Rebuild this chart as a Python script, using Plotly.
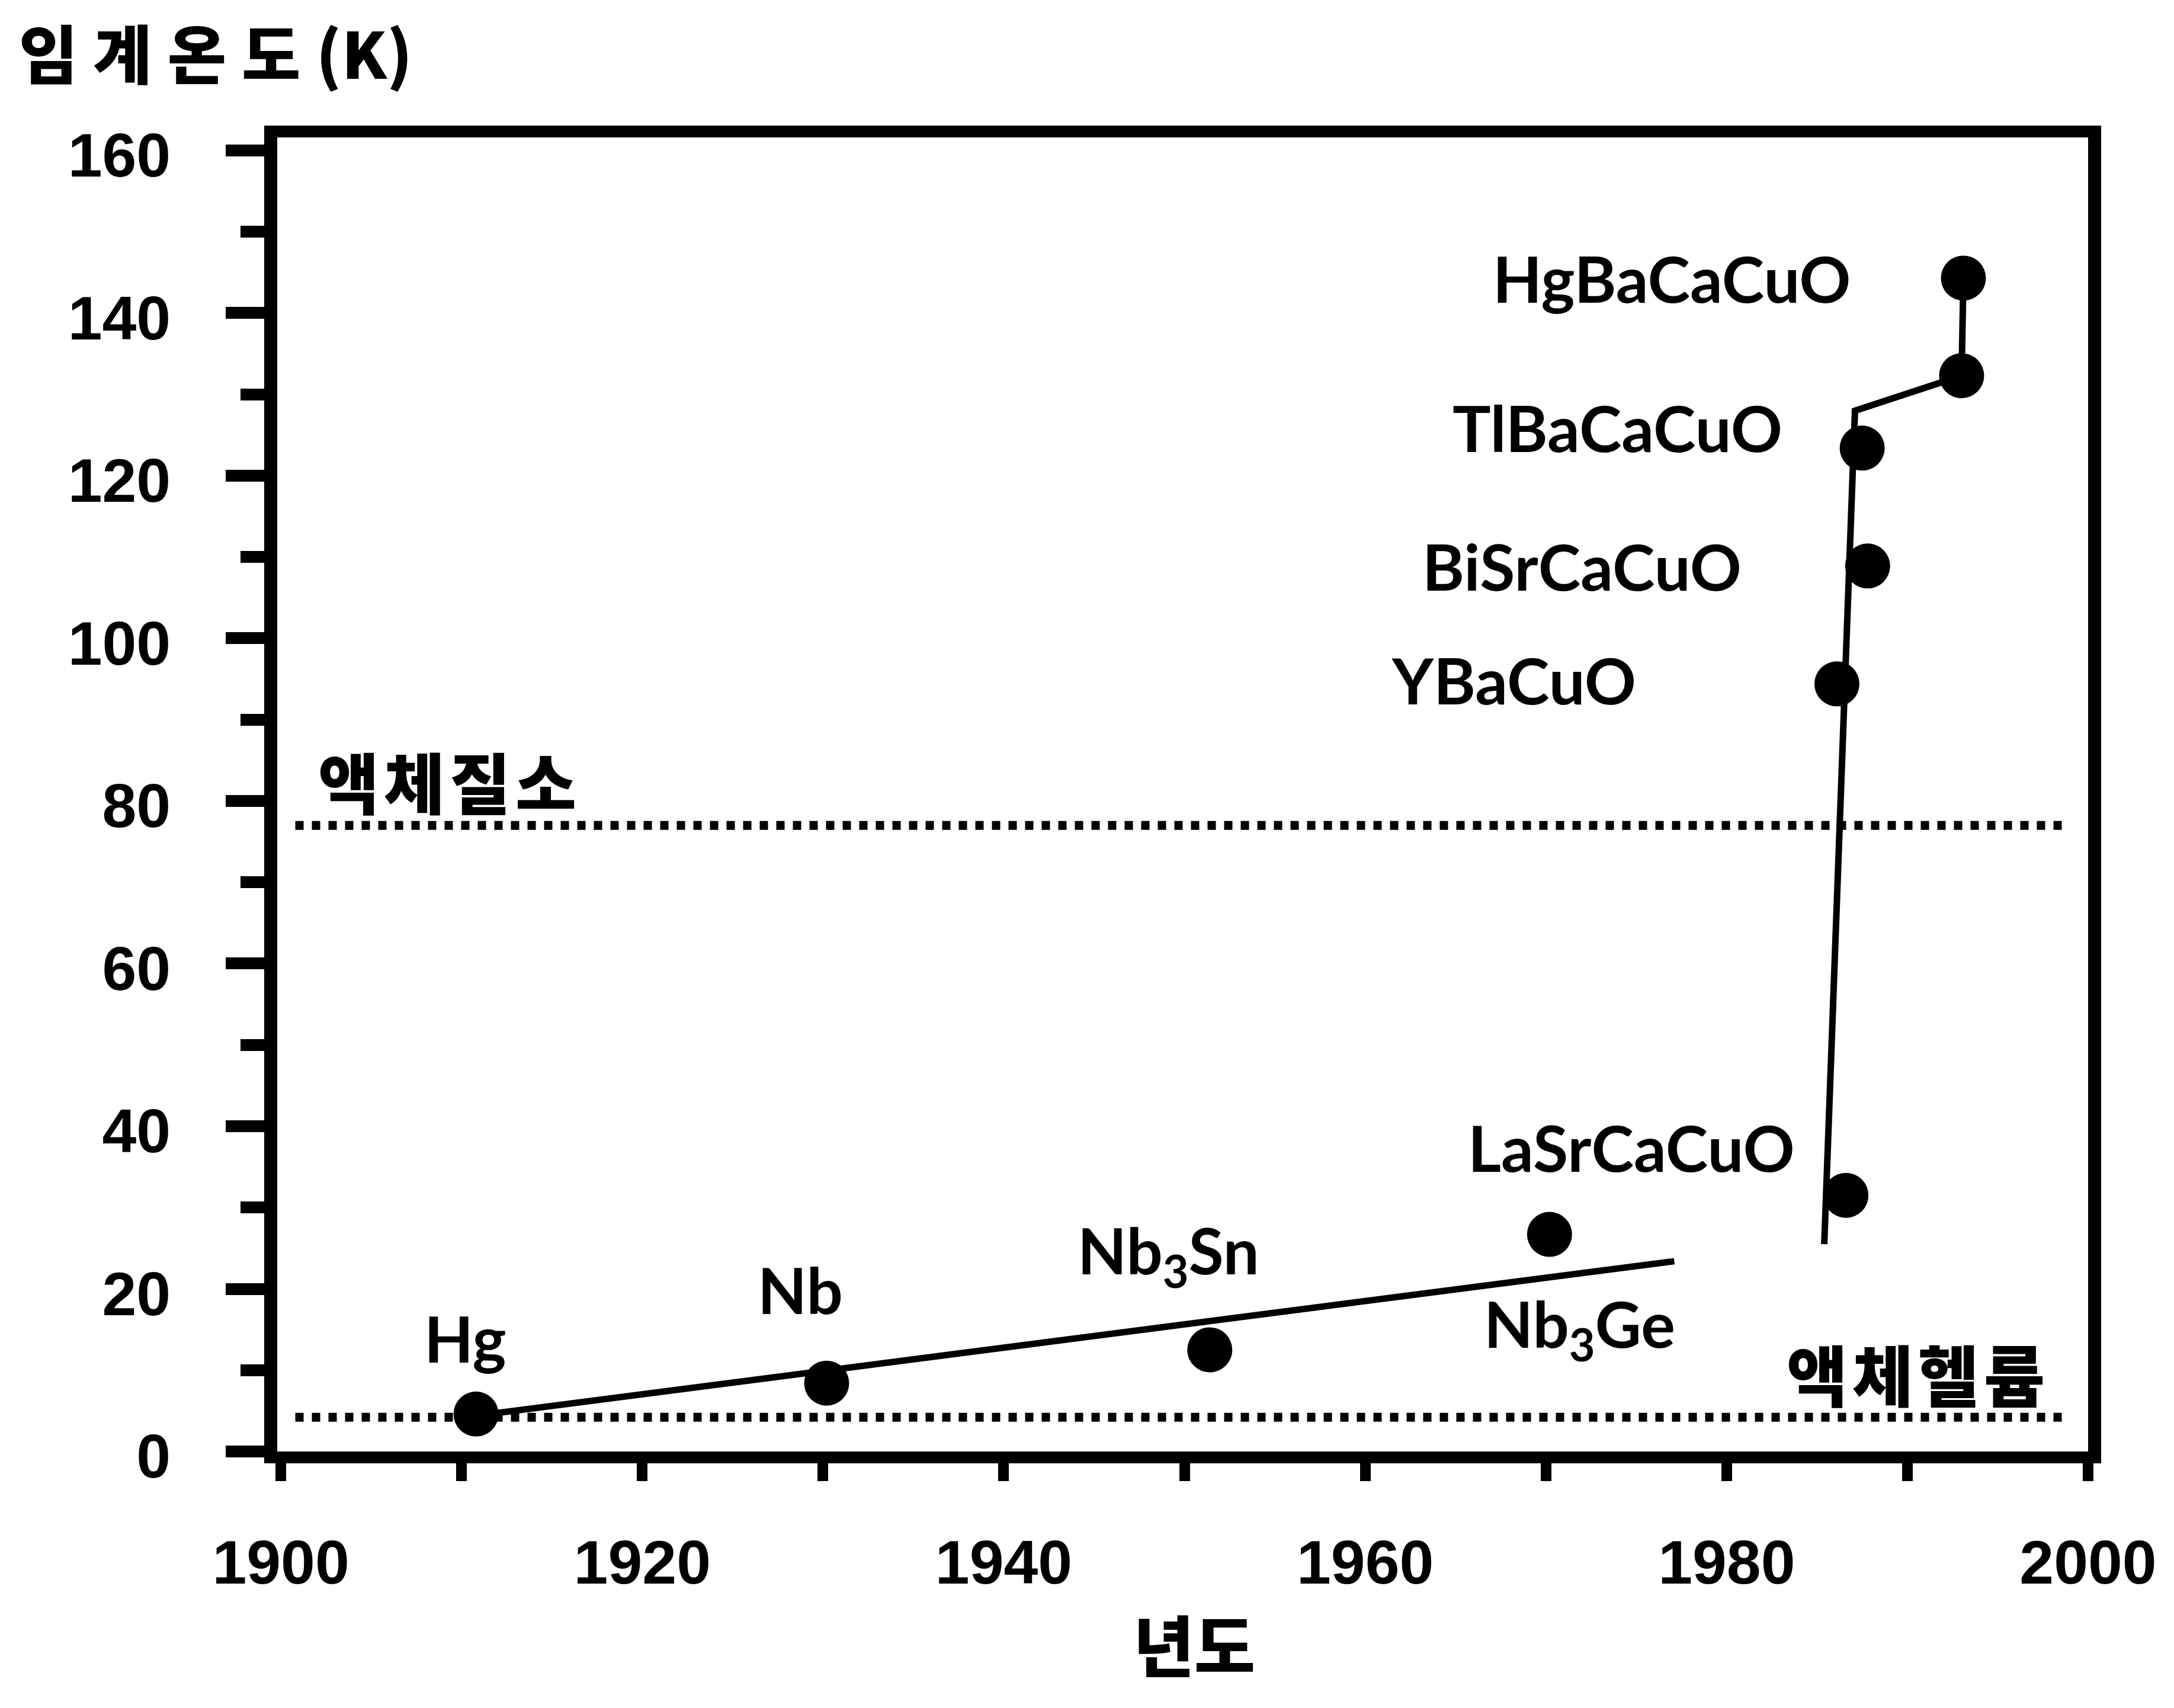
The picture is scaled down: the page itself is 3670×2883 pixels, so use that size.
import plotly.graph_objects as go

# ---- data ----
materials = ["Hg", "Nb", "Nb<sub>3</sub>Sn", "Nb<sub>3</sub>Ge", "LaSrCaCuO",
             "YBaCuO", "BiSrCaCuO", "TlBaCaCuO", "", "HgBaCaCuO"]
years = [1910.8, 1930.2, 1951.4, 1970.2, 1986.6, 1986.1, 1987.8, 1987.5, 1993.0, 1993.1]
tc_k = [4.6, 8.4, 12.5, 26.7, 31.5, 94.4, 108.9, 123.4, 132.3, 144.3]

trend_low_years = [1910.8, 1977.1]
trend_low_tc = [4.4, 23.4]
trend_high_years = [1985.4, 1987.1, 1993.0, 1993.1]
trend_high_tc = [25.5, 128.0, 132.3, 144.3]

nitrogen_k = 77
helium_k = 4.2
ref_line_years = [1900.8, 1998.6]
nitrogen_label = "액체질소"
helium_label = "액체헬륨"

x_title = "년도"
y_title_main = "임계온도"
y_title_unit = "(K)"
x_ticks = [1900, 1920, 1940, 1960, 1980, 2000]
y_ticks = [0, 20, 40, 60, 80, 100, 120, 140, 160]

# ---- styles ----
NUM_FONT = "Liberation Sans, Arial, sans-serif"
LAT_FONT = "Lato, Open Sans, Noto Sans, sans-serif"
KR_FONT = "Noto Sans CJK KR, Noto Sans CJK SC, sans-serif"
BLACK = "black"

# label offsets (pixels) relative to each point: (xshift, yshift, xanchor)
label_offsets = [
    (-19, 129, "center"),
    (-44, 159, "center"),
    (-70, 161, "center"),
    (51, -157, "center"),
    (-84, 82, "right"),
    (-337, 7, "right"),
    (-211, 0, "right"),
    (-133, 35, "right"),
    (0, 0, "right"),
    (-187, 0, "right"),
]

fig = go.Figure()

# reference dotted lines
for level in (nitrogen_k, helium_k):
    fig.add_trace(go.Scatter(
        x=ref_line_years, y=[level, level], mode="lines",
        line=dict(color=BLACK, width=15, dash="14px,14px"),
        hoverinfo="skip"))

# trend lines
fig.add_trace(go.Scatter(x=trend_low_years, y=trend_low_tc, mode="lines",
                         line=dict(color=BLACK, width=11)))
fig.add_trace(go.Scatter(x=trend_high_years, y=trend_high_tc, mode="lines",
                         line=dict(color=BLACK, width=11)))

# data points
fig.add_trace(go.Scatter(x=years, y=tc_k, mode="markers",
                         marker=dict(color=BLACK, size=76, line=dict(width=0))))

annotations = []
for name, x, y, (dx, dy, anchor) in zip(materials, years, tc_k, label_offsets):
    if not name:
        continue
    annotations.append(dict(
        x=x, y=y, xref="x", yref="y", text=name, showarrow=False,
        xanchor=anchor, yanchor="middle", xshift=dx, yshift=dy,
        font=dict(family=LAT_FONT, size=108, color=BLACK, weight="bold")))

annotations.append(dict(
    x=ref_line_years[0], y=nitrogen_k, xref="x", yref="y",
    text='<span style="letter-spacing:8px">' + nitrogen_label + '</span>',
    showarrow=False, xanchor="left", yanchor="middle", xshift=36, yshift=76,
    font=dict(family=KR_FONT, size=112, color=BLACK, weight=900)))
annotations.append(dict(
    x=ref_line_years[1], y=helium_k, xref="x", yref="y",
    text='<span style="letter-spacing:8px">' + helium_label + '</span>',
    showarrow=False, xanchor="right", yanchor="middle", xshift=-20, yshift=75,
    font=dict(family=KR_FONT, size=112, color=BLACK, weight=900)))

# axis titles
annotations.append(dict(
    x=0.5, y=0, xref="paper", yref="paper", text=x_title, showarrow=False,
    xanchor="center", yanchor="middle", xshift=19, yshift=-323,
    font=dict(family=KR_FONT, size=112, color=BLACK, weight=900)))
annotations.append(dict(
    x=0, y=1, xref="paper", yref="paper",
    text='<span style="letter-spacing:26px">' + y_title_main + '</span>' + y_title_unit,
    showarrow=False,
    xanchor="left", yanchor="middle", xshift=-438, yshift=146,
    font=dict(family=KR_FONT, size=108, color=BLACK, weight=900)))

fig.update_layout(
    width=3670, height=2883,
    margin=dict(l=468, r=145, t=232, b=433),
    plot_bgcolor="white", paper_bgcolor="white",
    showlegend=False,
    annotations=annotations,
)

fig.update_xaxes(
    range=[1899.8, 2000], tickvals=x_ticks, ticktext=[str(v) for v in x_ticks],
    ticks="outside", ticklen=30, tickwidth=18, tickcolor=BLACK,
    minor=dict(dtick=10, tick0=1900, ticks="outside", ticklen=30, tickwidth=18, tickcolor=BLACK),
    showline=True, linewidth=20, linecolor=BLACK, mirror=True,
    showgrid=False, zeroline=False,
    tickfont=dict(family=NUM_FONT, size=104, color=BLACK, weight="bold"),
    ticklabelstandoff=48,
)
fig.update_yaxes(
    range=[0, 161.6], tickvals=y_ticks, ticktext=[str(v) for v in y_ticks],
    ticks="outside", ticklen=65, tickwidth=20, tickcolor=BLACK,
    minor=dict(dtick=10, tick0=0, ticks="outside", ticklen=40, tickwidth=20, tickcolor=BLACK),
    showline=True, linewidth=22, linecolor=BLACK, mirror=True,
    showgrid=False, zeroline=False,
    tickfont=dict(family=NUM_FONT, size=104, color=BLACK, weight="bold"),
    ticklabelstandoff=72, ticklabelshift=8,
)

fig.write_html("out.html")
